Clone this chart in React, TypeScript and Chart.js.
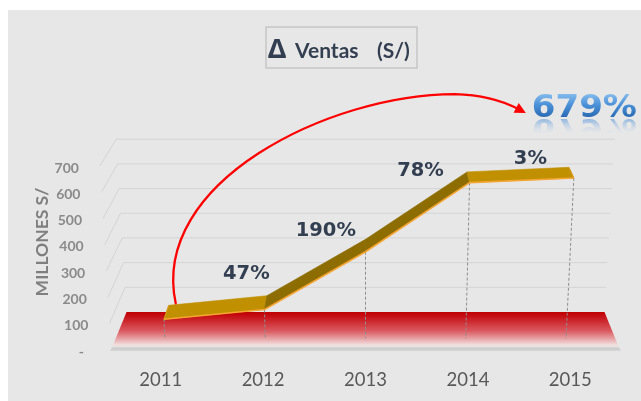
import React, { useEffect, useRef } from 'react';
import { Chart, registerables } from 'chart.js';

Chart.register(...registerables);

// ---------- data ----------
const years = ['2011', '2012', '2013', '2014', '2015'];
const salesMillions = [82, 120, 343, 610, 628];
const yTickValues = [0, 100, 200, 300, 400, 500, 600, 700];
const yTickLabels = ['-', '100', '200', '300', '400', '500', '600', '700'];
const growthLabels = ['47%', '190%', '78%', '3%'];
const growthLabelIndex = [0.83, 1.61, 2.54, 3.62];
const growthLabelValue = [298, 462, 690, 736];
const totalGrowthLabel = '679%';
const totalGrowthIndex = 4.15;
const totalGrowthValue = 928;
const yAxisTitle = 'MILLONES S/';
const titleParts = ['Δ', 'Ventas', '(S/)'];

// ---------- helpers ----------
function hexToRgb(h: string) {
  const n = parseInt(h.slice(1), 16);
  return [(n >> 16) & 255, (n >> 8) & 255, n & 255];
}
function mix(a: string, b: string, t: number) {
  const A = hexToRgb(a), B = hexToRgb(b);
  const c = A.map((v, i) => Math.round(v + (B[i] - v) * t));
  return `rgb(${c[0]},${c[1]},${c[2]})`;
}

// perspective projection built on the chart's own scales
function projector(chart: any) {
  const xs = chart.scales.x, ys = chart.scales.y;
  const Y0 = ys.getPixelForValue(0);
  const CX = xs.getPixelForValue(2);
  const VY = Y0 - 623;
  const KX = 0.000237;
  return (xw: number, v: number, d: number) => {
    const py = ys.getPixelForValue(v);
    const sd = 1 - 0.061 * d;
    return { x: CX + (xw - CX) * sd * (1 + KX * (Y0 - py)), y: VY + (py - VY) * sd };
  };
}

const FRONT_D = 0.25;
const BACK_D = 0.63;

const excel3dPlugin = {
  id: 'excel3d',
  beforeDatasetsDraw(chart: any) {
    const ctx: CanvasRenderingContext2D = chart.ctx;
    const xs = chart.scales.x, ys = chart.scales.y;
    const P = projector(chart);
    const L = xs.getPixelForValue(-0.5);
    const R = xs.getPixelForValue(years.length - 0.5);
    ctx.save();
    // background
    ctx.fillStyle = '#e7e7e7';
    ctx.fillRect(8, 10, chart.width - 8, chart.height - 10);

    // walls gridlines
    ctx.strokeStyle = '#d4d4d4';
    ctx.lineWidth = 1;
    yTickValues.forEach((v) => {
      if (v === 0) return;
      const a = P(L, v, 0), b = P(L, v, 1), c = P(R, v, 1);
      ctx.beginPath();
      ctx.moveTo(a.x, a.y);
      ctx.lineTo(b.x, b.y);
      ctx.lineTo(c.x, c.y);
      ctx.stroke();
    });

    // floor
    const fb1 = P(L, 0, 1), fb2 = P(R, 0, 1), ff2 = P(R, 0, 0), ff1 = P(L, 0, 0);
    const g = ctx.createLinearGradient(0, fb1.y, 0, ff1.y);
    g.addColorStop(0, '#c00000');
    g.addColorStop(0.08, '#c40a10');
    g.addColorStop(0.5, '#da5a60');
    g.addColorStop(0.86, '#f1dcdc');
    g.addColorStop(1, '#ececec');
    ctx.fillStyle = g;
    ctx.beginPath();
    ctx.moveTo(fb1.x, fb1.y);
    ctx.lineTo(fb2.x, fb2.y);
    ctx.lineTo(ff2.x, ff2.y);
    ctx.lineTo(ff1.x, ff1.y);
    ctx.closePath();
    ctx.fill();
    // floor front band
    const fm1 = P(L, 0, 0.1), fm2 = P(R, 0, 0.1);
    const bandBottom1 = { x: ff1.x - 1, y: ff1.y + 1 }, bandBottom2 = { x: ff2.x + 1, y: ff2.y + 1 };
    const g2 = ctx.createLinearGradient(0, fm1.y, 0, bandBottom1.y);
    g2.addColorStop(0, '#e4e4e4');
    g2.addColorStop(0.5, '#cbcbcb');
    g2.addColorStop(1, '#d8d8d8');
    ctx.fillStyle = g2;
    ctx.beginPath();
    ctx.moveTo(fm1.x, fm1.y);
    ctx.lineTo(fm2.x, fm2.y);
    ctx.lineTo(bandBottom2.x, bandBottom2.y);
    ctx.lineTo(bandBottom1.x, bandBottom1.y);
    ctx.closePath();
    ctx.fill();

    // y tick labels
    ctx.fillStyle = '#8a8a8a';
    ctx.font = 'bold 14px Lato';
    ctx.textAlign = 'right';
    ctx.textBaseline = 'alphabetic';
    yTickValues.forEach((v, i) => {
      const f = P(L, v, 0);
      const off = yTickLabels[i] === '-' ? 27 : 21;
      ctx.fillText(yTickLabels[i], f.x - off, ys.getPixelForValue(v) + 6.6);
    });

    // y axis title
    ctx.save();
    ctx.translate(41.7, (ys.getPixelForValue(0) + ys.getPixelForValue(700)) / 2 - 16);
    ctx.rotate(-Math.PI / 2);
    ctx.fillStyle = '#7f7f7f';
    ctx.font = 'bold 17.5px Lato';
    ctx.textAlign = 'center';
    ctx.fillText(yAxisTitle, 0, 6.3);
    ctx.restore();

    // x labels
    const CX = xs.getPixelForValue(2);
    ctx.fillStyle = '#595959';
    ctx.font = '18.5px Lato';
    ctx.textAlign = 'center';
    years.forEach((y, i) => {
      const x = xs.getPixelForValue(i);
      ctx.fillText(y, x + (x - CX) * 0.006, ys.getPixelForValue(0) + 36);
    });

    // title
    ctx.strokeStyle = '#c6c6c6';
    ctx.lineWidth = 1.5;
    ctx.strokeRect(266, 27, 151, 41);
    ctx.fillStyle = '#333f50';
    ctx.textAlign = 'left';
    ctx.font = 'bold 27px "Noto Sans"';
    ctx.fillText(titleParts[0], 268, 57.5);
    ctx.font = 'bold 21px Lato';
    ctx.fillText(titleParts[1], 295, 57.5);
    ctx.fillText(titleParts[2], 377, 57.5);
    ctx.restore();
  },
  afterDatasetsDraw(chart: any) {
    const ctx: CanvasRenderingContext2D = chart.ctx;
    const xs = chart.scales.x, ys = chart.scales.y;
    const P = projector(chart);
    const meta = chart.getDatasetMeta(0);
    const pts = meta.data.map((el: any, i: number) => ({ xw: el.x, v: salesMillions[i] }));
    const F = pts.map((p: any) => P(p.xw, p.v, FRONT_D));
    const B = pts.map((p: any) => P(p.xw, p.v, BACK_D));
    ctx.save();

    // drop lines
    ctx.strokeStyle = '#8e8e8e';
    ctx.lineWidth = 1;
    ctx.setLineDash([3, 2]);
    pts.forEach((p: any, i: number) => {
      const bot = P(p.xw, 0, FRONT_D);
      ctx.beginPath();
      ctx.moveTo(F[i].x, F[i].y);
      ctx.lineTo(bot.x, bot.y - 2);
      ctx.stroke();
    });
    ctx.setLineDash([]);

    // ribbon faces
    for (let i = 0; i < F.length - 1; i++) {
      const slope = Math.abs((F[i + 1].y - F[i].y) / (F[i + 1].x - F[i].x));
      const t = Math.max(0, Math.min(1, (slope - 0.15) / 0.35));
      const col = mix('#c09000', '#8d6d00', t);
      ctx.fillStyle = col;
      ctx.strokeStyle = col;
      ctx.lineWidth = 0.6;
      ctx.beginPath();
      ctx.moveTo(F[i].x, F[i].y);
      ctx.lineTo(F[i + 1].x, F[i + 1].y);
      ctx.lineTo(B[i + 1].x, B[i + 1].y);
      ctx.lineTo(B[i].x, B[i].y);
      ctx.closePath();
      ctx.fill();
      ctx.stroke();
    }
    // end caps + front edge
    ctx.strokeStyle = '#d99a1a';
    ctx.lineWidth = 1;
    [0, F.length - 1].forEach((i) => {
      ctx.beginPath();
      ctx.moveTo(F[i].x, F[i].y);
      ctx.lineTo(B[i].x, B[i].y);
      ctx.stroke();
    });
    ctx.strokeStyle = '#f5a534';
    ctx.lineWidth = 1.6;
    ctx.lineJoin = 'round';
    ctx.beginPath();
    F.forEach((p: any, i: number) => (i ? ctx.lineTo(p.x, p.y) : ctx.moveTo(p.x, p.y)));
    ctx.stroke();

    // growth labels
    ctx.fillStyle = '#333f50';
    ctx.font = 'bold 19.5px "DejaVu Sans"';
    ctx.textAlign = 'center';
    ctx.textBaseline = 'alphabetic';
    growthLabels.forEach((s, i) => {
      const x = xs.getPixelForValue(growthLabelIndex[i]);
      const y = ys.getPixelForValue(growthLabelValue[i]);
      ctx.fillText(s, x, y + 7.2);
    });

    // total growth label with reflection
    const tx = xs.getPixelForValue(totalGrowthIndex);
    const tyc = ys.getPixelForValue(totalGrowthValue);
    const size = 32;
    ctx.font = `bold ${size}px "DejaVu Sans"`;
    const w = ctx.measureText(totalGrowthLabel).width;
    const sx = 105 / w;
    const base = tyc + 11;
    const cap = size * 0.729;
    ctx.save();
    ctx.translate(tx, base);
    ctx.scale(sx, 1);
    const tg = ctx.createLinearGradient(0, -cap, 0, 0);
    tg.addColorStop(0, '#86bcec');
    tg.addColorStop(0.45, '#4d93da');
    tg.addColorStop(1, '#2a6bb3');
    ctx.fillStyle = tg;
    ctx.textAlign = 'center';
    ctx.fillText(totalGrowthLabel, 0, 0);
    // reflection
    ctx.translate(0, 1.5);
    ctx.scale(1, -1);
    const rg = ctx.createLinearGradient(0, 0, 0, -15);
    rg.addColorStop(0, 'rgba(70,140,215,0.55)');
    rg.addColorStop(0.6, 'rgba(120,170,225,0.18)');
    rg.addColorStop(1, 'rgba(150,190,235,0)');
    ctx.fillStyle = rg;
    ctx.fillText(totalGrowthLabel, 0, 0);
    ctx.restore();

    // red arrow from 2011 to total label
    const S = { x: B[0].x + 7, y: B[0].y - 2 };
    const E = { x: tx - 105 / 2 - 6, y: base - 4 };
    const ctrl2 = { x: E.x - 34, y: E.y - 18 };
    const ang = Math.atan2(E.y - ctrl2.y, E.x - ctrl2.x);
    const headLen = 11, headW = 5.5;
    const baseP = { x: E.x - headLen * Math.cos(ang), y: E.y - headLen * Math.sin(ang) };
    ctx.strokeStyle = '#ff0000';
    ctx.lineWidth = 2.3;
    ctx.lineCap = 'round';
    ctx.beginPath();
    ctx.moveTo(S.x, S.y);
    ctx.bezierCurveTo(S.x - 26, S.y - 121, S.x + 154, E.y - 19, E.x - 71, E.y - 19);
    ctx.quadraticCurveTo(ctrl2.x, ctrl2.y, baseP.x + 2 * Math.cos(ang), baseP.y + 2 * Math.sin(ang));
    ctx.stroke();
    ctx.fillStyle = '#ff0000';
    ctx.beginPath();
    ctx.moveTo(E.x, E.y);
    ctx.lineTo(baseP.x - headW * Math.sin(ang), baseP.y + headW * Math.cos(ang));
    ctx.lineTo(baseP.x + headW * Math.sin(ang), baseP.y - headW * Math.cos(ang));
    ctx.closePath();
    ctx.fill();

    ctx.restore();
  },
};

export default function App() {
  const ref = useRef<HTMLCanvasElement>(null);
  useEffect(() => {
    if (!ref.current) return;
    const chart = new Chart(ref.current, {
      type: 'line',
      data: {
        labels: years,
        datasets: [
          {
            label: 'Ventas',
            data: salesMillions,
            borderWidth: 0,
            pointRadius: 0,
            pointHoverRadius: 0,
            showLine: false,
          },
        ],
      },
      options: {
        animation: false,
        responsive: false,
        devicePixelRatio: 1,
        events: [],
        layout: { padding: { left: 111, right: 21, top: 166, bottom: 51 } },
        scales: {
          x: { type: 'category', offset: true, display: false },
          y: { min: 0, max: 700, display: false },
        },
        plugins: {
          legend: { display: false },
          tooltip: { enabled: false },
          title: { display: false },
        },
      },
      plugins: [excel3dPlugin],
    } as any);
    return () => chart.destroy();
  }, []);
  return (
    <div style={{ position: 'fixed', left: 0, top: 0, width: 641, height: 401 }}>
      <canvas ref={ref} width={641} height={401} style={{ display: 'block', width: 641, height: 401 }} />
    </div>
  );
}
